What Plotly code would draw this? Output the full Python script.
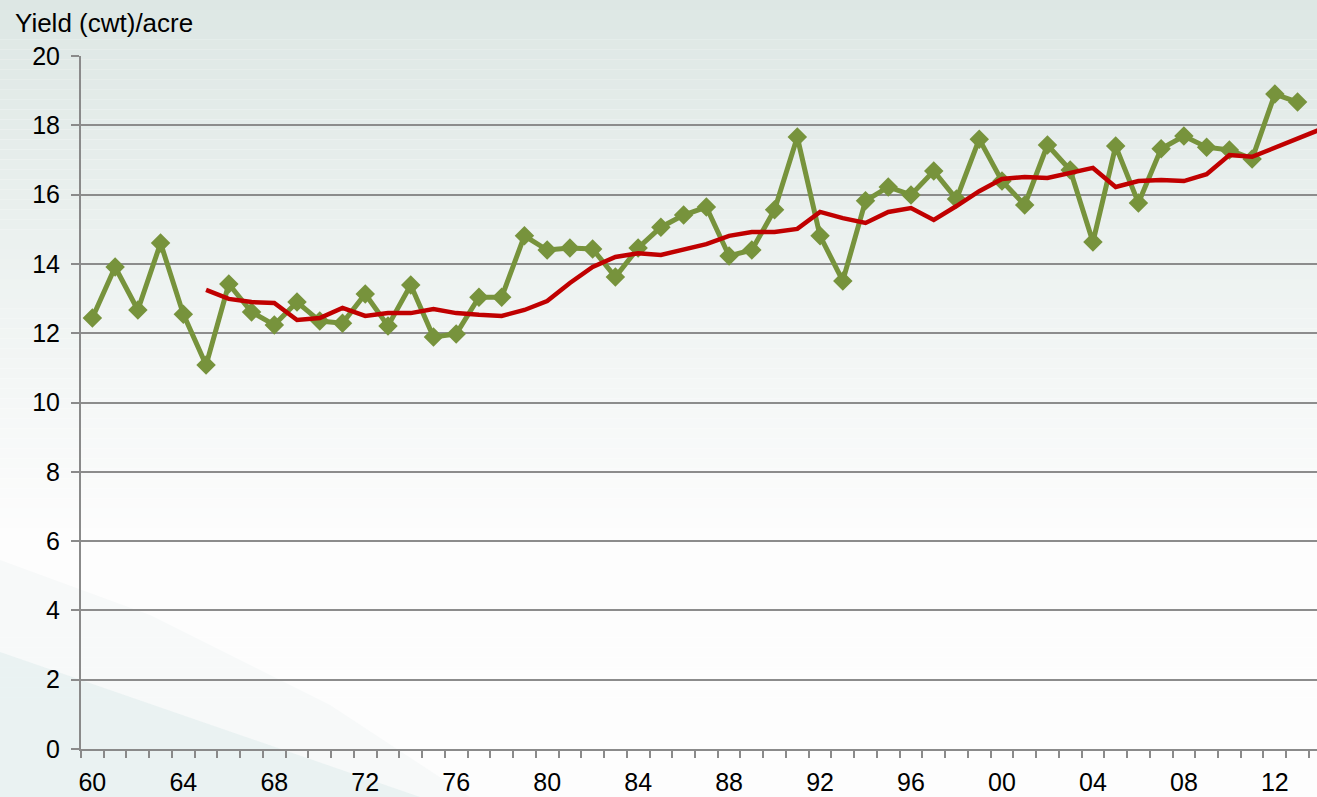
import plotly.graph_objects as go

years = list(range(1960, 2014))
yield_cwt = [12.44, 13.91, 12.67, 14.60, 12.55, 11.08, 13.42, 12.61, 12.24, 12.90,
             12.35, 12.29, 13.13, 12.21, 13.39, 11.89, 11.98, 13.04, 13.04, 14.81,
             14.40, 14.46, 14.43, 13.62, 14.46, 15.06, 15.41, 15.64, 14.23, 14.40,
             15.56, 17.66, 14.81, 13.51, 15.82, 16.22, 15.99, 16.68, 15.87, 17.60,
             16.39, 15.70, 17.43, 16.71, 14.63, 17.40, 15.76, 17.32, 17.69, 17.37,
             17.29, 17.03, 18.90, 18.67]

avg_years = list(range(1965, 2015))
avg_yield = [13.25, 12.99, 12.90, 12.87, 12.38, 12.44, 12.73, 12.50, 12.58, 12.58,
             12.70, 12.58, 12.53, 12.50, 12.67, 12.93, 13.45, 13.91, 14.20, 14.31,
             14.26, 14.40, 14.57, 14.81, 14.92, 14.92, 15.01, 15.50, 15.32, 15.18,
             15.50, 15.61, 15.27, 15.67, 16.10, 16.45, 16.51, 16.48, 16.62, 16.77,
             16.22, 16.39, 16.42, 16.39, 16.59, 17.14, 17.09, 17.35, 17.63, 17.88]

tick_years = list(range(1960, 2013, 4))
tick_labels = [f"{y % 100:02d}" for y in tick_years]

W, H = 1317, 797
ML, MT, MB = 81, 56, 48
plot_w = W - ML
plot_h = H - MT - MB
cat_w = 22.74

def px_to_paper_x(px):
    return (px - ML) / plot_w

def px_to_paper_y(py):
    return (H - MB - py) / plot_h

fig = go.Figure()

fig.add_trace(go.Scatter(
    x=years, y=yield_cwt, mode="lines+markers",
    line=dict(color="#77933c", width=5),
    marker=dict(symbol="diamond", size=15, color="#77933c"),
    cliponaxis=False, showlegend=False,
))
fig.add_trace(go.Scatter(
    x=avg_years, y=avg_yield, mode="lines",
    line=dict(color="#c00000", width=4.5),
    showlegend=False,
))

# background gradient bands
shapes = []
nb = 80
top = (221, 231, 228)
fade_end = 540
for i in range(nb):
    y0 = i * H / nb
    y1 = (i + 1) * H / nb
    t = min(1.0, ((y0 + y1) / 2) / fade_end)
    c = tuple(int(round(top[k] + (253 - top[k]) * t)) for k in range(3))
    shapes.append(dict(
        type="rect", xref="paper", yref="paper", layer="below",
        x0=px_to_paper_x(0), x1=px_to_paper_x(W),
        y0=px_to_paper_y(y1), y1=px_to_paper_y(y0),
        fillcolor=f"rgb{c}", line=dict(width=0),
    ))

def path_px(points):
    s = ""
    for i, (px, py) in enumerate(points):
        s += ("M" if i == 0 else " L") + f" {px_to_paper_x(px):.5f},{px_to_paper_y(py):.5f}"
    return s + " Z"

# decorative swooshes bottom-left
shapes.append(dict(type="path", xref="paper", yref="paper", layer="below",
                   path=path_px([(0, 560), (150, 615), (330, 705), (470, 797), (0, 797)]),
                   fillcolor="rgba(232,238,238,0.25)", line=dict(width=0)))
shapes.append(dict(type="path", xref="paper", yref="paper", layer="below",
                   path=path_px([(0, 652), (420, 797), (0, 797)]),
                   fillcolor="rgba(228,240,240,0.7)", line=dict(width=0)))

fig.update_layout(
    width=W, height=H,
    margin=dict(l=ML, r=0, t=MT, b=MB),
    paper_bgcolor="white",
    plot_bgcolor="rgba(0,0,0,0)",
    shapes=shapes,
    font=dict(family="Liberation Sans, Arial, sans-serif", color="black", size=25),
    annotations=[dict(
        text="Yield (cwt)/acre", xref="paper", yref="paper",
        x=px_to_paper_x(13), y=px_to_paper_y(23), xanchor="left", yanchor="middle",
        showarrow=False, font=dict(size=26, color="black"),
    )],
)

fig.update_xaxes(
    range=[1959.5, 1959.5 + plot_w / cat_w],
    tickmode="array", tickvals=tick_years, ticktext=tick_labels,
    ticks="", ticklen=0, ticklabelstandoff=10,
    showgrid=False, zeroline=False,
    showline=True, linecolor="#8a8a8a", linewidth=2,
    minor=dict(tickmode="linear", tick0=1959.5, dtick=1, ticks="outside",
               ticklen=7, tickcolor="#8a8a8a", tickwidth=1.5, showgrid=False),
    fixedrange=True,
)
fig.update_yaxes(
    range=[0, 20], dtick=2, tick0=0,
    ticks="outside", ticklen=8, tickcolor="#8a8a8a", tickwidth=1.5,
    ticklabelstandoff=6,
    showgrid=True, gridcolor="#8c8c8c", gridwidth=1.5,
    zeroline=False,
    showline=True, linecolor="#8a8a8a", linewidth=2,
    fixedrange=True,
)

fig.write_html(
    "out.html",
    config={"displayModeBar": False},
    post_script="document.body.style.margin='0';document.body.style.padding='0';"
                "document.body.style.overflow='hidden';",
)
